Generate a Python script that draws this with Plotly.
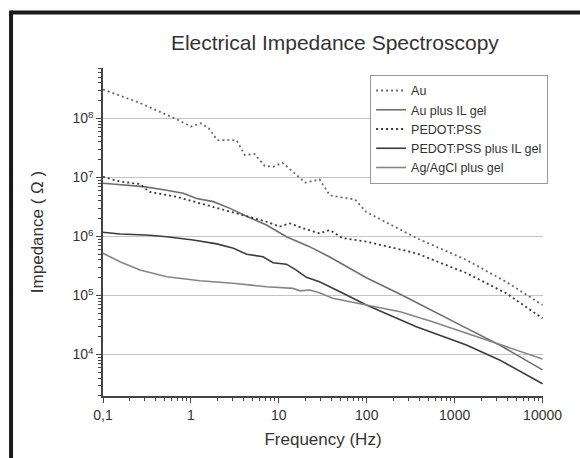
import plotly.graph_objects as go

# frequencies (Hz) and impedance (Ohm)
au_f = [0.1, 0.26, 0.69, 1.0, 1.3, 1.6, 2.0, 3.3, 4.1, 5.3, 6.9, 8.6, 11, 16.6, 20, 29, 38, 61, 73, 99, 370, 1360, 3870, 10000]
au_z = [3.1e8, 1.85e8, 9.7e7, 7.3e7, 8.3e7, 6.8e7, 4.3e7, 4.3e7, 2.4e7, 2.5e7, 1.57e7, 1.52e7, 1.78e7, 1.03e7, 8.2e6, 9.3e6, 5.0e6, 4.4e6, 4.3e6, 2.6e6, 9.4e5, 4.0e5, 1.7e5, 6.9e4]

auil_f = [0.1, 0.29, 0.53, 0.82, 1.16, 1.8, 2.78, 4.3, 7.25, 12.2, 22, 38, 99, 257, 1360, 3240, 10000]
auil_z = [8.0e6, 7.0e6, 6.1e6, 5.4e6, 4.4e6, 3.9e6, 3.0e6, 2.2e6, 1.57e6, 9.9e5, 6.8e5, 4.5e5, 2.0e5, 1.0e5, 2.8e4, 1.45e4, 5.5e3]

pedot_f = [0.1, 0.156, 0.26, 0.34, 0.69, 1.27, 2.33, 4.3, 7.25, 10.2, 13.3, 18.9, 29, 38, 53, 99, 367, 1360, 3870, 10000]
pedot_z = [1.03e7, 8.5e6, 7.8e6, 5.7e6, 4.7e6, 3.66e6, 2.8e6, 2.17e6, 1.78e6, 1.47e6, 1.67e6, 1.38e6, 1.13e6, 1.29e6, 9.4e5, 8.2e5, 5.2e5, 2.4e5, 1.09e5, 4.1e4]

pedil_f = [0.1, 0.156, 0.31, 0.53, 1.06, 1.97, 3.05, 4.3, 6.6, 8.6, 12.2, 15.8, 20.6, 29, 53, 99, 367, 1360, 3240, 10000]
pedil_z = [1.18e6, 1.1e6, 1.06e6, 9.9e5, 8.7e5, 7.5e5, 6.3e5, 5.0e5, 4.55e5, 3.6e5, 3.4e5, 2.7e5, 2.03e5, 1.71e5, 1.1e5, 6.9e4, 2.95e4, 1.45e4, 8.1e3, 3.2e3]

agcl_f = [0.1, 0.156, 0.263, 0.53, 1.27, 3.0, 7.25, 14.5, 17.4, 22.4, 29, 41, 99, 240, 560, 1360, 3240, 10000]
agcl_z = [5.2e5, 3.74e5, 2.7e5, 2.08e5, 1.78e5, 1.61e5, 1.41e5, 1.32e5, 1.2e5, 1.24e5, 1.11e5, 9.0e4, 6.9e4, 5.3e4, 3.6e4, 2.3e4, 1.45e4, 8.4e3]

x_ticks = [0.1, 1, 10, 100, 1000, 10000]
x_ticktext = ["0,1", "1", "10", "100", "1000", "10000"]
y_ticks = [1e4, 1e5, 1e6, 1e7, 1e8]
y_ticktext = ["10<sup>4</sup>", "10<sup>5</sup>", "10<sup>6</sup>", "10<sup>7</sup>", "10<sup>8</sup>"]

# minor ticks 2..9 in every decade
x_minor = [k * 10.0 ** e for e in range(-1, 4) for k in range(2, 10)]
y_minor = [k * 10.0 ** e for e in range(3, 9) for k in range(2, 10)]

fig = go.Figure()
fig.add_trace(go.Scatter(x=au_f, y=au_z, mode="lines", name="Au",
                         line=dict(color="#6a6a6a", width=1.8, dash="2px,3px")))
fig.add_trace(go.Scatter(x=auil_f, y=auil_z, mode="lines", name="Au plus IL gel",
                         line=dict(color="#6e6e6e", width=1.6)))
fig.add_trace(go.Scatter(x=pedot_f, y=pedot_z, mode="lines", name="PEDOT:PSS",
                         line=dict(color="#3a3a3a", width=1.8, dash="2px,3px")))
fig.add_trace(go.Scatter(x=pedil_f, y=pedil_z, mode="lines", name="PEDOT:PSS plus IL gel",
                         line=dict(color="#3c3c3c", width=1.6)))
fig.add_trace(go.Scatter(x=agcl_f, y=agcl_z, mode="lines", name="Ag/AgCl plus gel",
                         line=dict(color="#858585", width=1.6)))

fig.update_layout(
    width=580, height=458,
    margin=dict(l=103, r=37, t=68, b=62),
    paper_bgcolor="white", plot_bgcolor="white",
    font=dict(family="Liberation Sans, Arial, sans-serif", color="#333"),
    title=dict(text="Electrical Impedance Spectroscopy", x=0.527, xref="paper", xanchor="center",
               y=0.906, yanchor="middle", font=dict(size=21, color="#333")),
    showlegend=True,
    legend=dict(x=0.607, y=0.979, xanchor="left", yanchor="top", bgcolor="white",
                bordercolor="#999", borderwidth=1, font=dict(size=12.5, color="#333"),
                itemwidth=30, tracegroupgap=0),
)
fig.update_xaxes(type="log", range=[-1, 4.005], tickvals=x_ticks, ticktext=x_ticktext,
                 showgrid=False, showline=True, linecolor="#444", linewidth=1.5,
                 ticks="outside", ticklen=5, tickcolor="#444", tickfont=dict(size=14),
                 minor=dict(tickmode="array", tickvals=x_minor, ticks="outside", ticklen=3,
                            tickcolor="#444", showgrid=False),
                 title=dict(text="Frequency (Hz)", font=dict(size=17), standoff=12), zeroline=False)
fig.update_yaxes(type="log", range=[3.297, 8.856], tickvals=y_ticks, ticktext=y_ticktext,
                 showgrid=True, gridcolor="#c4c4c4", gridwidth=1,
                 showline=True, linecolor="#444", linewidth=1.5,
                 ticks="outside", ticklen=5, tickcolor="#444", tickfont=dict(size=14),
                 minor=dict(tickmode="array", tickvals=y_minor, ticks="outside", ticklen=3,
                            tickcolor="#444", showgrid=False),
                 title=dict(text="Impedance ( Ω )", font=dict(size=17), standoff=24), zeroline=False)

# black frame on top and left of the picture
fig.add_shape(type="line", xref="paper", yref="paper", x0=-0.209, x1=1.1, y0=1.169, y1=1.169,
              line=dict(color="#1a1a1a", width=4))
fig.add_shape(type="line", xref="paper", yref="paper", x0=-0.209, x1=-0.209, y0=1.175, y1=-0.2,
              line=dict(color="#1a1a1a", width=4))

# drop the default page margin so the figure sits at the window's corner
fig.write_html("out.html", config={"displayModeBar": False},
               post_script="document.body.style.margin='0';")
